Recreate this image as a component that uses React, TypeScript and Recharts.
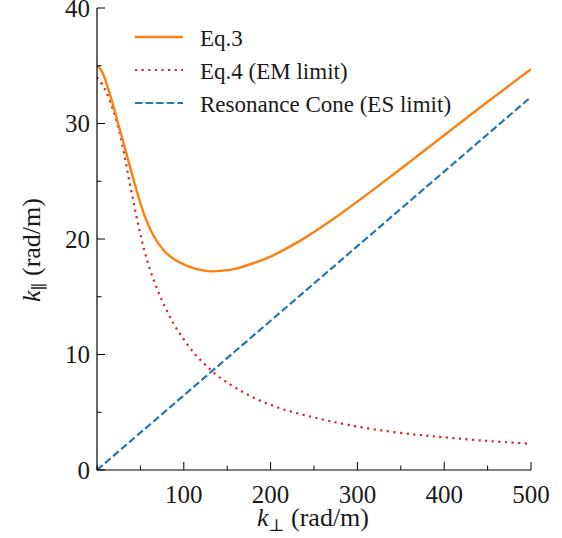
import { LineChart, Line, XAxis, YAxis, Legend } from "recharts";

const FONT = "Liberation Serif, DejaVu Serif, Times New Roman, serif";
const INK = "#1a1a1a";
const TXT = { fontFamily: FONT };

// axis ticks (minor every 50 / 5, labels on the major ones)
const X_TICKS = [0, 50, 100, 150, 200, 250, 300, 350, 400, 450, 500];
const Y_TICKS = [0, 5, 10, 15, 20, 25, 30, 35, 40];
const X_MAJOR = [100, 200, 300, 400, 500];
const Y_MAJOR = [0, 10, 20, 30, 40];

const SERIES_NAMES = ["Eq.3", "Eq.4 (EM limit)", "Resonance Cone (ES limit)"];
const COLORS = ["#ff7f0e", "#d62728", "#1f77b4"];

// Eq.3
const EQ3_K = [0, 5, 10, 15, 20, 25, 31, 39, 46, 54, 65, 77, 88, 100, 112, 122, 132, 145, 160, 180, 200, 220, 240, 260, 280, 300, 320, 360, 400, 450, 500];
const EQ3_V = [35.0, 34.6, 33.7, 32.5, 31.2, 29.8, 28.2, 26.0, 24.1, 22.2, 20.3, 19.0, 18.3, 17.8, 17.45, 17.28, 17.2, 17.26, 17.44, 17.9, 18.48, 19.25, 20.12, 21.1, 22.14, 23.25, 24.36, 26.66, 28.98, 31.88, 34.7];

// Eq.4 (EM limit)
const EQ4_K = [0, 6, 12, 18, 24, 30, 35, 40, 45, 50, 56, 65, 76, 88, 100, 112, 125, 140, 160, 185, 215, 250, 290, 340, 390, 440, 500];
const EQ4_V = [34.0, 33.4, 32.5, 31.3, 29.8, 27.9, 25.9, 24.0, 22.1, 20.4, 18.6, 16.5, 14.5, 12.7, 11.3, 10.1, 9.1, 8.1, 7.1, 6.1, 5.25, 4.55, 3.9, 3.3, 2.9, 2.57, 2.27];

// Resonance cone (ES limit)
const CONE_K = [0, 100, 200, 300, 400, 500];
const CONE_V = [0, 6.46, 12.92, 19.38, 25.84, 32.3];

const toRows = (ks: number[], vs: number[]) => ks.map((k, i) => ({ k, v: vs[i] }));
const eq3Data = toRows(EQ3_K, EQ3_V);
const eq4Data = toRows(EQ4_K, EQ4_V);
const coneData = toRows(CONE_K, CONE_V);

const MAJOR_LEN = 8;
const MINOR_LEN = 4.5;

function BottomTick(props: any) {
  const { x, y, payload } = props;
  const v = payload.value;
  const major = X_MAJOR.includes(v);
  return (
    <g>
      <line x1={x} x2={x} y1={y} y2={y - (major ? MAJOR_LEN : MINOR_LEN)} stroke="#000" />
      {major && (
        <text x={x} y={y + 33} textAnchor="middle" style={TXT} fontSize={25} fill={INK}>
          {v}
        </text>
      )}
    </g>
  );
}

function TopTick(props: any) {
  const { x, y, payload } = props;
  const major = X_MAJOR.includes(payload.value) || payload.value === 0;
  return <line x1={x} x2={x} y1={y} y2={y + (major ? MAJOR_LEN : MINOR_LEN)} stroke="#000" />;
}

function LeftTick(props: any) {
  const { x, y, payload } = props;
  const v = payload.value;
  const major = Y_MAJOR.includes(v);
  return (
    <g>
      <line x1={x} x2={x + (major ? MAJOR_LEN : MINOR_LEN)} y1={y} y2={y} stroke="#000" />
      {major && (
        <text x={x - 7} y={y + 8.5} textAnchor="end" style={TXT} fontSize={25} fill={INK}>
          {v}
        </text>
      )}
    </g>
  );
}

function RightTick(props: any) {
  const { x, y, payload } = props;
  const major = Y_MAJOR.includes(payload.value);
  return <line x1={x} x2={x - (major ? MAJOR_LEN : MINOR_LEN)} y1={y} y2={y} stroke="#000" />;
}

function XTitle() {
  return (
    <text x={313} y={526} textAnchor="middle" style={TXT} fontSize={26} fill={INK}>
      <tspan fontStyle="italic">k</tspan>
      <tspan fontSize={17} dy={5}>⊥</tspan>
      <tspan dy={-5}> (rad/m)</tspan>
    </text>
  );
}

function YTitle() {
  return (
    <text
      x={0}
      y={0}
      transform="translate(40 250) rotate(-90)"
      textAnchor="middle"
      style={TXT}
      fontSize={26}
      fill={INK}
    >
      <tspan fontStyle="italic">k</tspan>
      <tspan fontSize={17} dy={5}>∥</tspan>
      <tspan dy={-5}> (rad/m)</tspan>
    </text>
  );
}

function LegendBox() {
  const rows = [37, 70, 103];
  const dashes = [undefined, "2.2 4.4", "7.4 3.2"];
  return (
    <svg width={562} height={130} style={{ display: "block" }}>
      {SERIES_NAMES.map((name, i) => (
        <g key={name}>
          <line
            x1={135}
            x2={183}
            y1={rows[i]}
            y2={rows[i]}
            stroke={COLORS[i]}
            strokeWidth={i === 0 ? 2.4 : 2.2}
            strokeDasharray={dashes[i]}
          />
          <text x={200} y={rows[i] + 8.5} style={TXT} fontSize={23} fill={INK}>
            {name}
          </text>
        </g>
      ))}
    </svg>
  );
}

export default function App() {
  return (
    <div style={{ position: "absolute", left: 0, top: 0, width: 562, height: 538, background: "#fff", fontFamily: FONT }}>
      <LineChart width={562} height={538} margin={{ top: 8, right: 31, left: 0, bottom: 0 }}>
        <XAxis
          dataKey="k"
          type="number"
          domain={[0, 500]}
          ticks={X_TICKS}
          interval={0}
          allowDataOverflow
          height={68}
          tickSize={0}
          tickMargin={0}
          tick={<BottomTick />}
          axisLine={{ stroke: "#000", strokeWidth: 1.2 }}
          label={<XTitle />}
        />
        <XAxis
          xAxisId="top"
          orientation="top"
          dataKey="k"
          type="number"
          domain={[0, 500]}
          ticks={X_TICKS}
          interval={0}
          allowDataOverflow
          height={0}
          tickSize={0}
          tickMargin={0}
          tick={<TopTick />}
          axisLine={{ stroke: "#000", strokeWidth: 1.2 }}
        />
        <YAxis
          type="number"
          domain={[0, 40]}
          ticks={Y_TICKS}
          interval={0}
          allowDataOverflow
          width={97}
          tickSize={0}
          tickMargin={0}
          tick={<LeftTick />}
          axisLine={{ stroke: "#000", strokeWidth: 1.2 }}
          label={<YTitle />}
        />
        <YAxis
          yAxisId="right"
          orientation="right"
          type="number"
          domain={[0, 40]}
          ticks={Y_TICKS}
          interval={0}
          allowDataOverflow
          width={0}
          tickSize={0}
          tickMargin={0}
          tick={<RightTick />}
          axisLine={{ stroke: "#000", strokeWidth: 1.2 }}
        />
        <Legend
          layout="vertical"
          align="center"
          verticalAlign="middle"
          content={<LegendBox />}
          wrapperStyle={{ top: 0, left: 0, width: 562, height: 130, pointerEvents: "none" }}
        />
        <Line
          data={coneData}
          dataKey="v"
          name={SERIES_NAMES[2]}
          type="linear"
          stroke={COLORS[2]}
          strokeWidth={2.2}
          strokeDasharray="7.4 3.2"
          dot={false}
          activeDot={false}
          isAnimationActive={false}
        />
        <Line
          data={eq4Data}
          dataKey="v"
          name={SERIES_NAMES[1]}
          type="natural"
          stroke={COLORS[1]}
          strokeWidth={2.2}
          strokeDasharray="2.2 4.4"
          dot={false}
          activeDot={false}
          isAnimationActive={false}
        />
        <Line
          data={eq3Data}
          dataKey="v"
          name={SERIES_NAMES[0]}
          type="natural"
          stroke={COLORS[0]}
          strokeWidth={2.4}
          dot={false}
          activeDot={false}
          isAnimationActive={false}
        />
      </LineChart>
    </div>
  );
}
